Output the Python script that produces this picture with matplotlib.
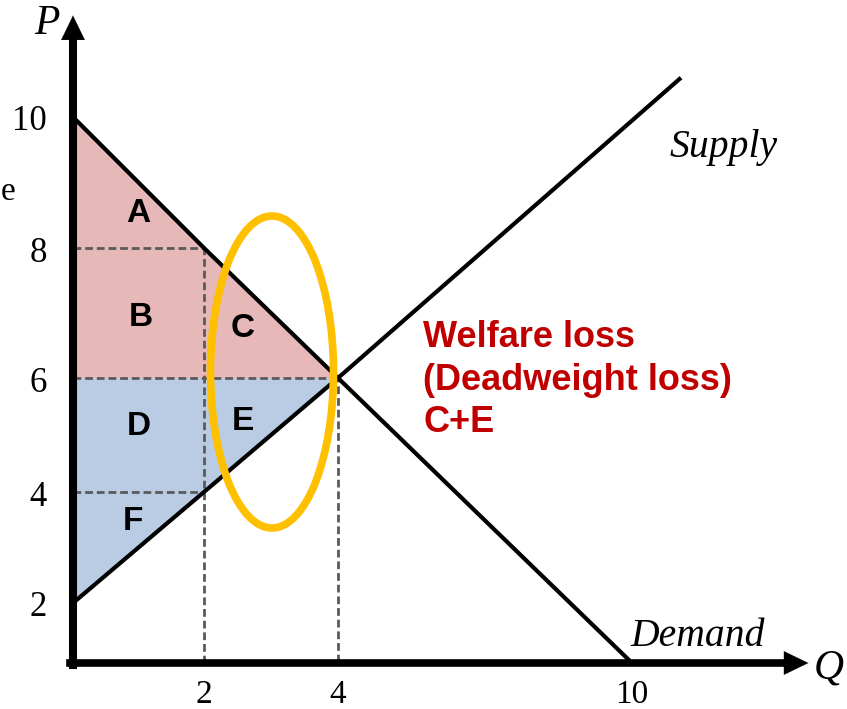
import numpy as np
import matplotlib
matplotlib.use("Agg")
import matplotlib.pyplot as plt
from matplotlib.scale import FuncScale
from matplotlib.patches import Ellipse

# ---------------- data ----------------
supply_q = [0, 2, 4, 11]
supply_p = [2, 4, 6, 10.6]
demand_q = [0, 2, 4, 10]
demand_p = [10, 8, 6, 0]
q_ticks = [2, 4, 10]
p_ticks = [2, 4, 6, 8, 10]
q_eq, p_eq = 4, 6          # equilibrium
q_lim, p_hi, p_lo = 2, 8, 4  # restricted quantity and the two prices
consumer_labels = ["A", "B", "C"]
producer_labels = ["D", "E", "F"]

# ---------------- hand-drawn (piecewise) scales ----------------
W, H = 847, 709
qk, q_px = [0, 2, 4, 10], [73, 204, 338, 632]
pk, p_px = [0, 2, 4, 6, 8, 10], [663, 603, 492, 378, 248, 117]


def piecewise(k, v):
    k = np.asarray(k, float)
    v = np.asarray(v, float)

    def f(x):
        x = np.asarray(x, float)
        y = np.interp(x, k, v)
        y = np.where(x < k[0], v[0] + (x - k[0]) * (v[1] - v[0]) / (k[1] - k[0]), y)
        y = np.where(x > k[-1], v[-1] + (x - k[-1]) * (v[-1] - v[-2]) / (k[-1] - k[-2]), y)
        return y
    return f


fx, ix = piecewise(qk, q_px), piecewise(q_px, qk)
neg_p = [-v for v in p_px]
fy, iy = piecewise(pk, neg_p), piecewise(neg_p, pk)

fig = plt.figure(figsize=(W / 100, H / 100), dpi=100)
ax = fig.add_axes([0, 0, 1, 1])
ax.set_xscale(FuncScale(ax, (fx, ix)))
ax.set_yscale(FuncScale(ax, (fy, iy)))
ax.set_xlim(float(ix(0)), float(ix(W)))
ax.set_ylim(float(iy(-H)), float(iy(0)))
ax.axis("off")

pink = "#E6B8B8"
blue = "#B9CCE4"
grey = "#5a5a5a"

# surplus areas
ax.fill([0, 0, q_eq], [demand_p[0], p_eq, p_eq], color=pink, lw=0, zorder=1)
ax.fill([0, 0, q_eq], [supply_p[0], p_eq, p_eq], color=blue, lw=0, zorder=1)

# dashed guides
dash = dict(color=grey, lw=2.0, ls=(0, (2.8, 1.4)), zorder=2)
ax.plot([0, q_lim], [p_hi, p_hi], **dash)
ax.plot([0, q_lim], [p_lo, p_lo], **dash)
ax.plot([0, q_eq], [p_eq, p_eq], **dash)
ax.plot([q_lim, q_lim], [0, p_hi], **dash)
ax.plot([q_eq, q_eq], [0.05, p_eq], **dash)

# supply & demand
ax.plot(supply_q, supply_p, color="black", lw=3, zorder=3, solid_capstyle="butt")
ax.plot(demand_q, demand_p, color="black", lw=3, zorder=3, solid_capstyle="butt")

# axes with arrows
ax.plot([0, 0], [-0.05, 11.2], color="black", lw=5.8, zorder=5, solid_capstyle="projecting")
ax.plot([-0.04, 13.2], [0, 0], color="black", lw=5.5, zorder=5, solid_capstyle="projecting")
ax.annotate("", xy=(0, 11.55), xytext=(0, 10.5),
            arrowprops=dict(arrowstyle="-|>,head_length=1.75,head_width=0.85",
                            mutation_scale=10, lw=0.1, color="black",
                            shrinkA=0, shrinkB=0), zorder=6)
ax.annotate("", xy=(13.6, 0), xytext=(12.5, 0),
            arrowprops=dict(arrowstyle="-|>,head_length=1.75,head_width=0.85",
                            mutation_scale=10, lw=0.1, color="black",
                            shrinkA=0, shrinkB=0), zorder=6)

# ellipse (deadweight loss highlight) - in figure fraction
ax.add_patch(Ellipse((272 / W, 1 - 372 / H), 123 / W, 312 / H, transform=ax.transAxes,
                     fill=False, edgecolor="#FFC000", lw=5.5, zorder=4))

serif = "Liberation Serif"
# tick labels
for p in p_ticks:
    ax.annotate(str(p), xy=(0, p), xytext=(-26, -1), textcoords="offset pixels",
                ha="right", va="center_baseline", fontsize=25, family=serif)
for q in q_ticks:
    ax.annotate(str(q), xy=(q, 0), xytext=(0, -28), textcoords="offset pixels",
                ha="center", va="center_baseline", fontsize=24, family=serif)

fig.text(47 / W, 1 - 24 / H, "P", fontsize=30, family=serif, style="italic",
         ha="center", va="center")
fig.text(829 / W, 1 - 668 / H, "Q", fontsize=30, family=serif, style="italic",
         ha="center", va="center")
fig.text(724 / W, 1 - 147 / H, "Supply", fontsize=28.5, family=serif, style="italic",
         ha="center", va="center")
fig.text(698 / W, 1 - 637 / H, "Demand", fontsize=28.5, family=serif, style="italic",
         ha="center", va="center")
fig.text(1 / W, 1 - 200 / H, "e", fontsize=24, family=serif, ha="left", va="baseline")

# area labels
lab = dict(fontsize=24, family="Liberation Sans", weight="bold", ha="center", va="center", zorder=7)
label_pos = {"A": (138, 213), "B": (141, 318), "C": (243, 329),
             "D": (139, 427), "E": (243, 422), "F": (133, 522)}
for L in consumer_labels + producer_labels:
    x, y = label_pos[L]
    fig.text(x / W, 1 - y / H, L, **lab)

# welfare loss text
red = dict(fontsize=26, family="Liberation Sans", weight="bold", color="#C00000",
           ha="left", va="baseline")
fig.text(423 / W, 1 - 347 / H, "Welfare loss", **red)
fig.text(423 / W, 1 - 390 / H, "(Deadweight loss)", **red)
fig.text(423 / W, 1 - 432 / H, "C+E", **red)

fig.savefig("out.png", dpi=100)
